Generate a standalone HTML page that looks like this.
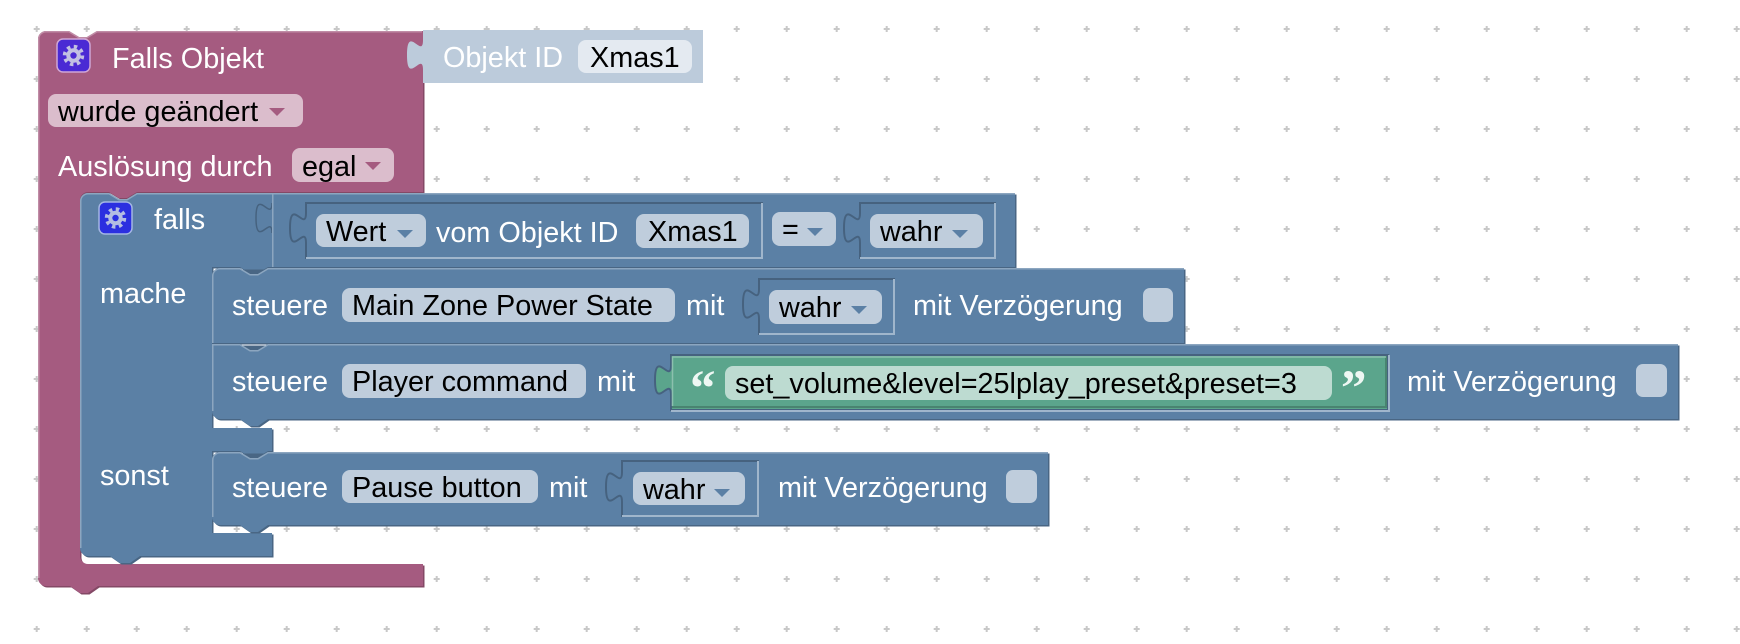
<!DOCTYPE html>
<html><head><meta charset="utf-8">
<style>
html,body{margin:0;padding:0;background:#fff;}
svg{display:block;}
text{font-family:"Liberation Sans",Arial,sans-serif;font-size:28.8px;}
.w{fill:#fff}
.k{fill:#000}
</style></head><body>
<svg width="1740" height="644" viewBox="0 0 1740 644" xmlns="http://www.w3.org/2000/svg">
<defs>
<pattern id="g" x="11.7" y="4" width="50" height="50" patternUnits="userSpaceOnUse">
<path d="M22 25H28M25 22V28" stroke="#c8c8c8" stroke-width="2"/>
</pattern>
</defs>
<rect width="1740" height="644" fill="url(#g)"/>

<!-- Pink "Falls Objekt" block -->
<path transform="translate(1.5,1.5)" fill="#844966" d="M38,39 A8,8 0 0 1 46,31 H69 L79,37 H87 L97,31 H423 V192 H137 L127,198 H119 L109,192 H88 A8,8 0 0 0 80,200 V556 A8,8 0 0 0 88,564 H423 V586 H98 L88,593 H80 L70,586 H46 A8,8 0 0 1 38,578 Z"/>
<path fill="#a55b80" d="M38,39 A8,8 0 0 1 46,31 H69 L79,37 H87 L97,31 H423 V192 H137 L127,198 H119 L109,192 H88 A8,8 0 0 0 80,200 V556 A8,8 0 0 0 88,564 H423 V586 H98 L88,593 H80 L70,586 H46 A8,8 0 0 1 38,578 Z"/>
<path fill="none" stroke="#c08ca6" stroke-width="1.5" d="M38.75,578 V39 A7.25,7.25 0 0 1 46,31.75 H69 L79,37.75 H87 L97,31.75 H422"/>

<!-- Objekt ID block -->
<path fill="#bccbdb" d="M423,30 H703 V83 H423 V70 c0,-20 -16,17 -16,-15 s16,5 16,-15 Z"/>
<text x="443" y="67" class="w">Objekt ID</text>
<rect x="578" y="40" width="114" height="33" rx="8" fill="#e4eaf1"/>
<text x="590" y="67" class="k">Xmas1</text>

<!-- pink gear -->
<rect x="57" y="39" width="33" height="33" rx="6" fill="#4a2ad4" stroke="#cfa6d6" stroke-width="1.5"/>
<g transform="translate(73.5,55.5)">
<circle r="8.5" fill="none" stroke="#c2c0e2" stroke-width="4.5" stroke-dasharray="3.3 3.376"/>
<circle r="7.2" fill="#c2c0e2"/>
<circle r="3.2" fill="#4a2ad4"/>
</g>
<text x="112" y="68" class="w">Falls Objekt</text>
<rect x="48" y="94" width="255" height="33" rx="8" fill="#dbbdcc"/>
<text x="58" y="121" class="k">wurde geändert</text>
<path d="M269,108 h16 l-8,8 z" fill="#a55b80"/>
<text x="58" y="176" class="w">Auslösung durch</text>
<rect x="292" y="148" width="102" height="34" rx="8" fill="#dbbdcc"/>
<text x="302" y="176" class="k">egal</text>
<path d="M365,162 h16 l-8,8 z" fill="#a55b80"/>

<!-- Blue if block -->
<path transform="translate(1.5,1.5)" fill="#496684" d="M80,201 A8,8 0 0 1 88,193 H109 L119,199 H127 L137,193 H272 V267 H268 L258,273 H250 L240,267 H212 V428 H272 V451 H268 L258,457 H250 L240,451 H212 V533 H272 V556 H140 L130,563 H120 L110,556 H88 A8,8 0 0 1 80,548 Z"/>
<path fill="#5b80a5" d="M80,201 A8,8 0 0 1 88,193 H109 L119,199 H127 L137,193 H272 V267 H268 L258,273 H250 L240,267 H212 V428 H272 V451 H268 L258,457 H250 L240,451 H212 V533 H272 V556 H140 L130,563 H120 L110,556 H88 A8,8 0 0 1 80,548 Z"/>
<path fill="none" stroke="#8ca6c0" stroke-width="1.5" d="M80.75,548 V201 A7.25,7.25 0 0 1 88,193.75 H109 L119,199.75 H127 L137,193.75 H272"/>
<rect x="99" y="202" width="33" height="32" rx="6" fill="#2b2fe0" stroke="#a3b5e4" stroke-width="1.5"/>
<g transform="translate(115.5,218)">
<circle r="8.5" fill="none" stroke="#b4bde2" stroke-width="4.5" stroke-dasharray="3.3 3.376"/>
<circle r="7.2" fill="#b4bde2"/>
<circle r="3.2" fill="#2b2fe0"/>
</g>
<text x="154" y="229" class="w">falls</text>
<text x="100" y="303" class="w">mache</text>
<text x="100" y="485" class="w">sonst</text>

<!-- Compare block -->
<path transform="translate(1.5,1.5)" fill="#496684" d="M272,193 H1015 V267 H272 Z"/>
<path fill="#5b80a5" d="M272,193 H1015 V267 H272 V233 c0,-20 -16,17 -16,-15 s16,5 16,-15 Z"/>
<path fill="none" stroke="#46627f" stroke-width="1.5" d="M272,233 c0,-20 -16,17 -16,-15 s16,5 16,-15"/>
<path fill="none" stroke="#8ca6c0" stroke-width="1.5" d="M272.75,267 V193.75 H1015"/>

<!-- inner Wert socket -->
<path fill="#5b80a5" stroke="#46627f" stroke-width="2" d="M306,203 H762 V258 H306 V243 c0,-20 -16,17 -16,-15 s16,5 16,-15 Z"/>
<path fill="none" stroke="#a0b6cc" stroke-width="2" d="M762,203 V258 H306"/>
<rect x="316" y="214" width="110" height="33" rx="8" fill="#bfcddc"/>
<text x="326" y="241" class="k">Wert</text>
<path d="M397,230 h16 l-8,8 z" fill="#5b80a5"/>
<text x="436" y="242" class="w">vom Objekt ID</text>
<rect x="636" y="214" width="113" height="34" rx="8" fill="#bfcddc"/>
<text x="648" y="241" class="k">Xmas1</text>
<rect x="772" y="212" width="64" height="34" rx="8" fill="#bfcddc"/>
<text x="782" y="239" class="k">=</text>
<path d="M807,228 h16 l-8,8 z" fill="#5b80a5"/>
<!-- cond wahr socket -->
<path fill="#5b80a5" stroke="#46627f" stroke-width="2" d="M860,203 H995 V258 H860 V243 c0,-20 -16,17 -16,-15 s16,5 16,-15 Z"/>
<path fill="none" stroke="#a0b6cc" stroke-width="2" d="M995,203 V258 H860"/>
<rect x="870" y="214" width="113" height="34" rx="8" fill="#bfcddc"/>
<text x="880" y="241" class="k">wahr</text>
<path d="M952,230 h16 l-8,8 z" fill="#5b80a5"/>

<!-- S1 -->
<path transform="translate(1.5,1.5)" fill="#496684" d="M212,276 A8,8 0 0 1 220,268 H1184 V343 H212 Z"/>
<path fill="#5b80a5" d="M212,276 A8,8 0 0 1 220,268 H240 L250,274 H258 L268,268 H1184 V343 H212 Z"/>
<path fill="none" stroke="#8ca6c0" stroke-width="1.5" d="M212.75,343 V276 A7.25,7.25 0 0 1 220,268.75 H240 L250,274.75 H258 L268,268.75 H1184"/>
<text x="232" y="315" class="w">steuere</text>
<rect x="342" y="288" width="333" height="34" rx="8" fill="#bfcddc"/>
<text x="352" y="315" class="k">Main Zone Power State</text>
<text x="686" y="315" class="w">mit</text>
<path fill="#5b80a5" stroke="#46627f" stroke-width="2" d="M759,279 H894 V334 H759 V319 c0,-20 -16,17 -16,-15 s16,5 16,-15 Z"/>
<path fill="none" stroke="#a0b6cc" stroke-width="2" d="M894,279 V334 H759"/>
<rect x="769" y="290" width="113" height="34" rx="8" fill="#bfcddc"/>
<text x="779" y="317" class="k">wahr</text>
<path d="M851,306 h16 l-8,8 z" fill="#5b80a5"/>
<text x="913" y="315" class="w">mit Verzögerung</text>
<rect x="1143" y="288" width="30" height="34" rx="7" fill="#bfcddc"/>

<!-- S2 -->
<path transform="translate(1.5,1.5)" fill="#496684" d="M212,344 H1678 V419 H268 L258,426 H250 L240,419 H220 A8,8 0 0 1 212,411 Z"/>
<path fill="#5b80a5" d="M212,344 H240 L250,350 H258 L268,344 H1678 V419 H268 L258,426 H250 L240,419 H220 A8,8 0 0 1 212,411 Z"/>
<path fill="none" stroke="#8ca6c0" stroke-width="1.5" d="M212.75,411 V344.75 H240 L250,350.75 H258 L268,344.75 H1678"/>
<text x="232" y="391" class="w">steuere</text>
<rect x="342" y="364" width="244" height="34" rx="8" fill="#bfcddc"/>
<text x="352" y="391" class="k">Player command</text>
<text x="597" y="391" class="w">mit</text>
<!-- green string block -->
<path fill="#5ba58c" stroke="#46627f" stroke-width="2" d="M671,355 H1388 V410 H671 V395 c0,-20 -16,17 -16,-15 s16,5 16,-15 Z"/>
<path fill="none" stroke="#498470" stroke-width="2" d="M672,407 H1386 V356"/>
<path fill="none" stroke="#a0b6cc" stroke-width="2" d="M1389,355 V411 H671"/>
<path fill="none" stroke="#8cc0ae" stroke-width="1.5" d="M672.5,406 V357 H1386"/>
<text x="690" y="405" style="font-family:'Liberation Serif',serif;font-size:51px;font-weight:bold;" fill="#eef7f3">“</text>
<rect x="725" y="366" width="607" height="34" rx="8" fill="#bddbd1"/>
<text x="735" y="393" class="k">set_volume&amp;level=25lplay_preset&amp;preset=3</text>
<text x="1341" y="405" style="font-family:'Liberation Serif',serif;font-size:51px;font-weight:bold;" fill="#eef7f3">”</text>
<text x="1407" y="391" class="w">mit Verzögerung</text>
<rect x="1636" y="364" width="31" height="33" rx="7" fill="#bfcddc"/>

<!-- S3 -->
<path transform="translate(1.5,1.5)" fill="#496684" d="M212,460 A8,8 0 0 1 220,452 H1048 V525 H268 L258,532 H250 L240,525 H220 A8,8 0 0 1 212,517 Z"/>
<path fill="#5b80a5" d="M212,460 A8,8 0 0 1 220,452 H240 L250,458 H258 L268,452 H1048 V525 H268 L258,532 H250 L240,525 H220 A8,8 0 0 1 212,517 Z"/>
<path fill="none" stroke="#8ca6c0" stroke-width="1.5" d="M212.75,517 V460 A7.25,7.25 0 0 1 220,452.75 H240 L250,458.75 H258 L268,452.75 H1048"/>
<text x="232" y="497" class="w">steuere</text>
<rect x="342" y="470" width="196" height="33" rx="8" fill="#bfcddc"/>
<text x="352" y="497" class="k">Pause button</text>
<text x="549" y="497" class="w">mit</text>
<path fill="#5b80a5" stroke="#46627f" stroke-width="2" d="M622,461 H758 V516 H622 V502 c0,-20 -16,17 -16,-15 s16,5 16,-15 Z"/>
<path fill="none" stroke="#a0b6cc" stroke-width="2" d="M758,461 V516 H622"/>
<rect x="633" y="472" width="112" height="33" rx="8" fill="#bfcddc"/>
<text x="643" y="499" class="k">wahr</text>
<path d="M714,489 h16 l-8,8 z" fill="#5b80a5"/>
<text x="778" y="497" class="w">mit Verzögerung</text>
<rect x="1006" y="470" width="31" height="33" rx="7" fill="#bfcddc"/>
</svg>
</body></html>
